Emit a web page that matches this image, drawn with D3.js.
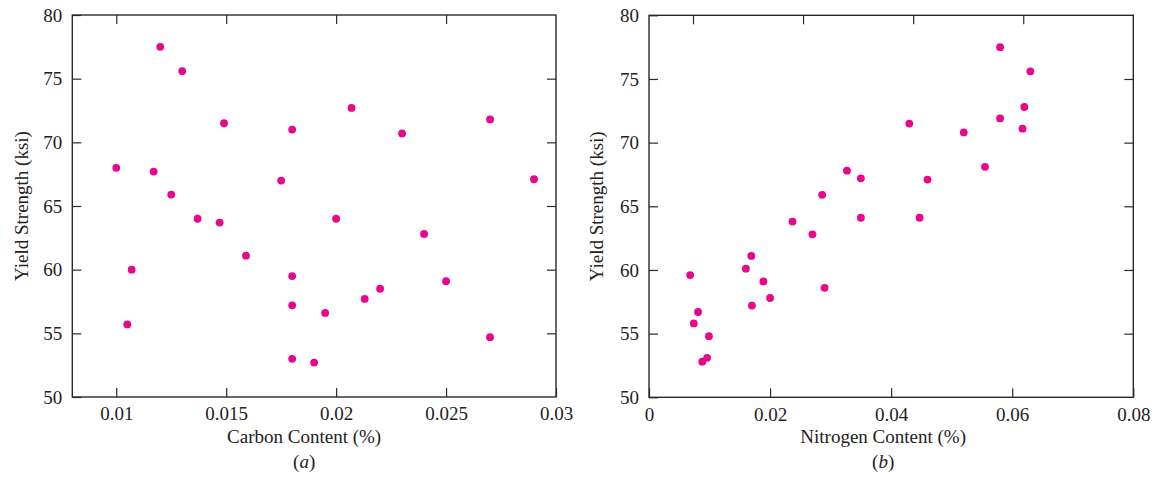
<!DOCTYPE html>
<html>
<head>
<meta charset="utf-8">
<script src="https://cdn.jsdelivr.net/npm/d3@7"></script>
<style>
  html, body { margin: 0; padding: 0; background: #fff; }
  svg { display: block; }
  text { font-family: "Liberation Serif", "DejaVu Serif", serif; fill: #222; }
</style>
</head>
<body>
<svg id="chart" width="1163" height="483"></svg>
<script>
// ---- Data ----
const carbonX = [0.0100, 0.0120, 0.0130, 0.0149, 0.0180, 0.0117, 0.0125, 0.0175, 0.0137, 0.0147,
                 0.0159, 0.0107, 0.0180, 0.0180, 0.0105, 0.0180, 0.0207, 0.0270, 0.0230, 0.0290,
                 0.0200, 0.0240, 0.0250, 0.0220, 0.0213, 0.0195, 0.0270, 0.0190];
const carbonY = [68.0, 77.5, 75.6, 71.5, 71.0, 67.7, 65.9, 67.0, 64.0, 63.7,
                 61.1, 60.0, 59.5, 57.2, 55.7, 53.0, 72.7, 71.8, 70.7, 67.1,
                 64.0, 62.8, 59.1, 58.5, 57.7, 56.6, 54.7, 52.7];

const nitrogenX = [0.0068, 0.0081, 0.0074, 0.0099, 0.0088, 0.0096, 0.0160, 0.0169, 0.0189, 0.0170,
                   0.0200, 0.0237, 0.0270, 0.0286, 0.0290, 0.0327, 0.0350, 0.0350, 0.0580, 0.0630,
                   0.0620, 0.0580, 0.0617, 0.0430, 0.0520, 0.0555, 0.0460, 0.0447];
const nitrogenY = [59.6, 56.7, 55.8, 54.8, 52.8, 53.1, 60.1, 61.1, 59.1, 57.2,
                   57.8, 63.8, 62.8, 65.9, 58.6, 67.8, 67.2, 64.1, 77.5, 75.6,
                   72.8, 71.9, 71.1, 71.5, 70.8, 68.1, 67.1, 64.1];

const yTicks = [50, 55, 60, 65, 70, 75, 80];
const carbonTicks = [0.01, 0.015, 0.02, 0.025, 0.03];
const carbonTickLabels = ["0.01", "0.015", "0.02", "0.025", "0.03"];
const nitrogenTicks = [0, 0.02, 0.04, 0.06, 0.08];
const nitrogenTickLabels = ["0", "0.02", "0.04", "0.06", "0.08"];
// top-edge ticks of panel (b) sit at the same offsets as panel (a)
const nitrogenTopTicks = [0.00727, 0.02545, 0.04364, 0.06182];

const yTitle = "Yield Strength (ksi)";
const carbonTitle = "Carbon Content (%)";
const nitrogenTitle = "Nitrogen Content (%)";

// ---- Drawing ----
const svg = d3.select("#chart");
const dotColor = "#e8078b";
const frameColor = "#2a2a2a";
const fontSize = 19;
const tickLen = 9;

function panel(opts) {
  const { left, right, top, bottom, xDomain, xTicks, xLabels, topTicks, xs, ys, xTitle, titleDx, tag, yTitleX } = opts;
  const x = d3.scaleLinear().domain(xDomain).range([left, right]);
  const y = d3.scaleLinear().domain([50, 80]).range([bottom, top]);
  const g = svg.append("g");

  // bottom axis: inner ticks, labels below
  const bx = g.append("g").attr("transform", `translate(0,${bottom})`)
    .call(d3.axisBottom(x).tickValues(xTicks).tickSize(-tickLen).tickPadding(10)
      .tickFormat((d, i) => xLabels[i]));
  bx.select(".domain").remove();
  // top axis
  const tx = g.append("g").attr("transform", `translate(0,${top})`)
    .call(d3.axisTop(x).tickValues(topTicks).tickSize(-tickLen).tickFormat(""));
  tx.select(".domain").remove();
  // left axis
  const lx = g.append("g").attr("transform", `translate(${left},0)`)
    .call(d3.axisLeft(y).tickValues(yTicks).tickSize(-tickLen).tickPadding(10).tickFormat(d3.format("d")));
  lx.select(".domain").remove();
  // right axis
  const rx = g.append("g").attr("transform", `translate(${right},0)`)
    .call(d3.axisRight(y).tickValues(yTicks.slice(1, -1)).tickSize(-tickLen).tickFormat(""));
  rx.select(".domain").remove();

  g.selectAll(".tick line").attr("stroke", frameColor).attr("stroke-width", 1.2);
  g.selectAll(".tick text").attr("font-family", "Liberation Serif, serif")
    .attr("font-size", fontSize).attr("fill", "#222");

  // frame
  g.append("rect").attr("x", left).attr("y", top)
    .attr("width", right - left).attr("height", bottom - top)
    .attr("fill", "none").attr("stroke", frameColor).attr("stroke-width", 1.4);

  // dots
  g.append("g").selectAll("circle").data(xs.map((v, i) => [v, ys[i]])).join("circle")
    .attr("cx", d => x(d[0])).attr("cy", d => y(d[1])).attr("r", 3.9)
    .attr("fill", dotColor);

  const cx = (left + right) / 2 + titleDx;
  g.append("text").attr("x", cx).attr("y", 443).attr("text-anchor", "middle")
    .attr("font-size", fontSize).text(xTitle);
  const t = g.append("text").attr("x", cx).attr("y", 468).attr("text-anchor", "middle")
    .attr("font-size", fontSize);
  t.append("tspan").text("(");
  t.append("tspan").attr("font-style", "italic").text(tag);
  t.append("tspan").text(")");

  g.append("text")
    .attr("transform", `translate(${yTitleX},${(top + bottom) / 2}) rotate(-90)`)
    .attr("text-anchor", "middle").attr("font-size", fontSize).text(yTitle);
}

panel({
  left: 72.3, right: 556, top: 15, bottom: 397,
  xDomain: [0.008, 0.03], xTicks: carbonTicks, xLabels: carbonTickLabels,
  topTicks: carbonTicks.slice(0, -1), xs: carbonX, ys: carbonY,
  xTitle: carbonTitle, titleDx: -10, tag: "a", yTitleX: 27.5
});
panel({
  left: 649, right: 1133.3, top: 15.3, bottom: 397.3,
  xDomain: [0, 0.08], xTicks: nitrogenTicks, xLabels: nitrogenTickLabels,
  topTicks: nitrogenTopTicks, xs: nitrogenX, ys: nitrogenY,
  xTitle: nitrogenTitle, titleDx: -8, tag: "b", yTitleX: 603
});
</script>
</body>
</html>
